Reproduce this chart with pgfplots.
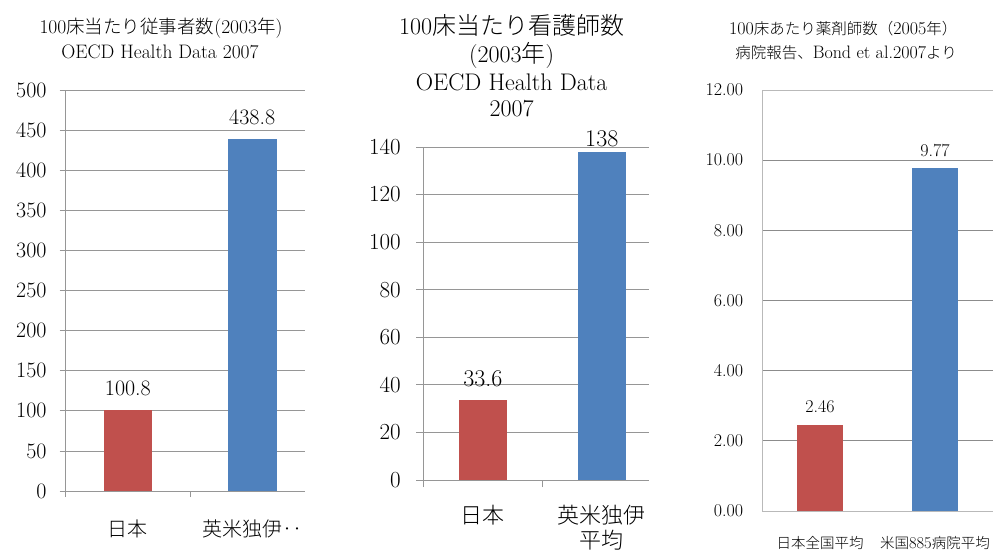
\documentclass[border=0pt]{standalone}
\usepackage{fontspec}
\usepackage{pgfplots}
\pgfplotsset{compat=1.18}
\newfontfamily\jp{Noto Sans CJK JP Light}
\newcommand\fs[1]{\fontsize{#1}{#1}\selectfont}
\definecolor{barred}{RGB}{192,80,77}
\definecolor{barblue}{RGB}{79,129,189}
\definecolor{gridA}{RGB}{150,150,150}
\definecolor{gridB}{RGB}{140,140,140}
\definecolor{frameB}{RGB}{185,185,185}

\pgfplotsset{
  every axis/.append style={scale only axis, anchor=south west, clip=false,
    /pgf/number format/assume math mode=true, ymin=0, xmin=-0.5},
  barstyle/.style={ybar, bar shift=0pt, draw=none, nodes near coords,
    every node near coord/.append style={anchor=base, inner sep=0pt, text=black}},
}

\begin{document}
\begin{tikzpicture}[x=1pt,y=1pt]
\useasboundingbox (0,0) rectangle (993,550);

% ---- staff per 100 beds ----
\begin{axis}[at={(65.7pt,59pt)}, width=239.3pt, height=401pt,
  xmax=1.425, ymax=500,
  axis x line*=bottom, axis y line*=left,
  axis line style={draw=gridA, line width=0.8pt},
  ymajorgrids, grid style={draw=gridA, line width=0.8pt},
  tick style={draw=gridA, line width=0.8pt}, tick align=outside, major tick length=6pt,
  ytick={0,50,...,500},
  yticklabel style={font=\fs{22}, anchor=east, inner sep=0pt, xshift=-13pt},
  xtick={-0.5,0.5}, xticklabels={},
  extra x ticks={0,1}, extra x tick labels={{\jp 日本},{\jp 英米独伊‥}},
  extra x tick style={major tick length=0pt,
    xticklabel style={font=\fs{20}, anchor=base, inner sep=0pt, yshift=-45pt}},
]
\addplot[barstyle, fill=barred, bar width=48.7pt,
  every node near coord/.append style={font=\fs{22}, yshift=15pt}] coordinates {(0,100.8)};
\addplot[barstyle, fill=barblue, bar width=48.7pt,
  every node near coord/.append style={font=\fs{22}, yshift=14.5pt}] coordinates {(1,438.8)};
\end{axis}
\node[anchor=base] at (161,516.5) {\fs{19.5}100{\fs{18.5}\jp 床当たり従事者数}(2003{\fs{18.5}\jp 年})};
\node[anchor=base] at (160,491) {\fs{19.5}OECD Health Data 2007};

% ---- nurses per 100 beds ----
\begin{axis}[at={(423.3pt,70pt)}, width=225.7pt, height=333pt,
  xmax=1.397, ymax=140,
  axis x line*=bottom, axis y line*=left,
  axis line style={draw=gridA, line width=0.8pt},
  ymajorgrids, grid style={draw=gridA, line width=0.8pt},
  tick style={draw=gridA, line width=0.8pt}, tick align=outside, major tick length=7pt,
  ytick={0,20,...,140},
  yticklabel style={font=\fs{23}, anchor=east, inner sep=0pt, xshift=-15.3pt},
  xtick={-0.5,0.5}, xticklabels={},
  extra x ticks={0,1}, extra x tick labels={{\jp 日本},{{\jp 英米独伊}\\{\jp 平均}}},
  extra x tick style={major tick length=0pt,
    xticklabel style={font=\fontsize{22}{25}\selectfont, align=center, anchor=north, inner sep=0pt, yshift=-25pt}},
]
\addplot[barstyle, fill=barred, bar width=47.5pt,
  every node near coord/.append style={font=\fs{24}, yshift=14pt}] coordinates {(0,33.6)};
\addplot[barstyle, fill=barblue, bar width=47.5pt,
  every node near coord/.append style={font=\fs{24}, yshift=5pt}] coordinates {(1,138)};
\end{axis}
\node[anchor=base] at (511.7,515) {\fs{24}100{\jp 床当たり看護師数}};
\node[anchor=base] at (511.7,487) {\fs{24}(2003{\jp 年})};
\node[anchor=base] at (511.7,459.5) {\fs{24}OECD Health Data};
\node[anchor=base] at (511.7,433.5) {\fs{24}2007};

% ---- pharmacists per 100 beds ----
\begin{axis}[at={(762.7pt,39pt)}, width=232pt, height=421pt,
  xmax=1.521, ymax=12,
  axis line style={draw=frameB, line width=0.8pt},
  ymajorgrids, grid style={draw=gridB, line width=0.8pt},
  major tick length=0pt,
  ytick={0,2,...,12},
  yticklabel style={font=\fs{18}, anchor=east, inner sep=0pt, xshift=-19.4pt,
    /pgf/number format/fixed, /pgf/number format/fixed zerofill, /pgf/number format/precision=2},
  xtick={0,1},
  xticklabels={{\jp 日本全国平均},{{\jp 米国}{\fs{16.5}885}{\jp 病院平均}}},
  xticklabel style={font=\fs{14.5}, anchor=base, inner sep=0pt, yshift=-37pt},
]
\addplot[barstyle, fill=barred, bar width=46.3pt,
  every node near coord/.append style={font=\fs{18}, yshift=12.5pt}] coordinates {(0,2.46)};
\addplot[barstyle, fill=barblue, bar width=46.3pt,
  every node near coord/.append style={font=\fs{18}, yshift=12pt}] coordinates {(1,9.77)};
\end{axis}
\node[anchor=base] at (843.3,515.6) {\fs{18}100{\fs{15.5}\jp 床あたり薬剤師数（}2005{\fs{15.5}\jp 年）}};
\node[anchor=base] at (846,491) {{\fs{15.5}\jp 病院報告、}{\fs{18}Bond et al.2007}{\fs{15.5}\jp より}};
\end{tikzpicture}
\end{document}
